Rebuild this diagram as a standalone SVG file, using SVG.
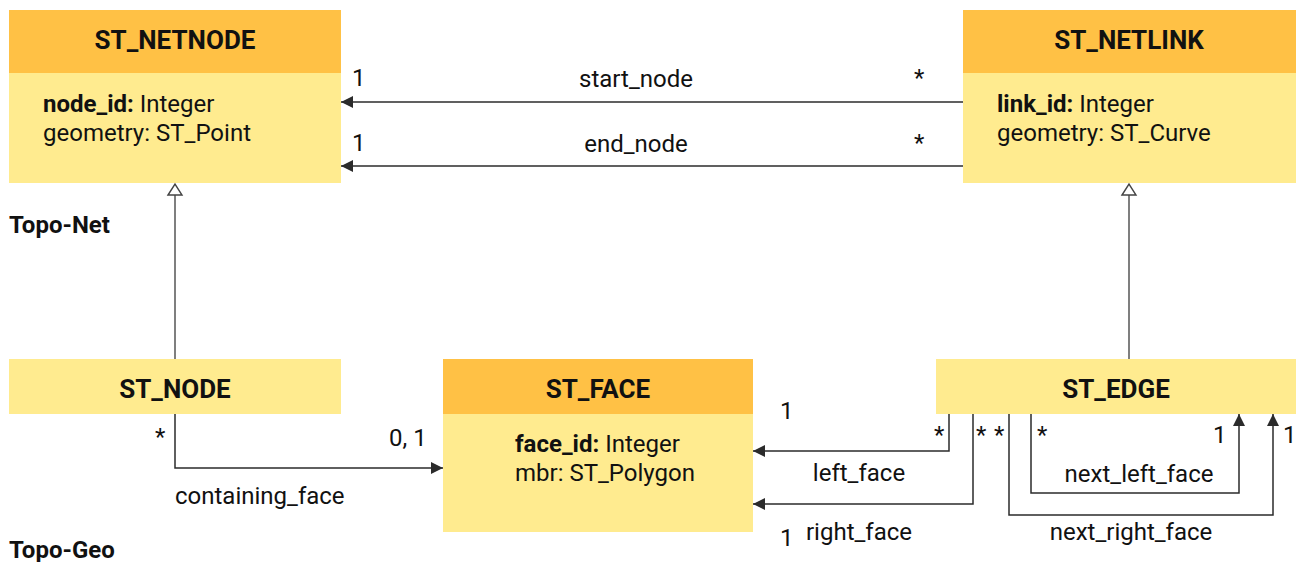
<svg xmlns="http://www.w3.org/2000/svg" width="1296" height="562" viewBox="0 0 1296 562">
<defs>
<style>
text{font-family:Roboto,"Liberation Sans",sans-serif;fill:#111}
.title{font-size:26px;font-weight:bold;text-anchor:middle}
.attr{font-size:24px}
.lbl{font-size:24px}
.mid{text-anchor:middle}
.end{text-anchor:end}
.b{font-weight:bold}
.hdr{fill:#FFC145}
.body{fill:#FFEB8F}
.assoc{fill:none;stroke:#2b2b2b;stroke-width:1.5}
.gen{fill:none;stroke:#555;stroke-width:1.5}
</style>
<marker id="arr" viewBox="0 0 12 12" refX="12" refY="6" markerWidth="12" markerHeight="12" markerUnits="userSpaceOnUse" orient="auto">
<path d="M0,0 L12,6 L0,12 z" fill="#2b2b2b"/>
</marker>
<marker id="tri" viewBox="0 0 13 16" refX="12" refY="8" markerWidth="13" markerHeight="16" markerUnits="userSpaceOnUse" orient="auto" overflow="visible">
<path d="M1,1 L12,8 L1,15 z" fill="#fff" stroke="#444" stroke-width="1.4"/>
</marker>
</defs>
<rect width="1296" height="562" fill="#fff"/>

<g id="netnode">
<rect class="body" x="9" y="10" width="332" height="173"/>
<rect class="hdr" x="9" y="10" width="332" height="63"/>
<text class="title" x="175" y="49">ST_NETNODE</text>
<text class="attr" x="43" y="112"><tspan class="b">node_id:</tspan> Integer</text>
<text class="attr" x="43" y="141">geometry: ST_Point</text>
</g>

<g id="netlink">
<rect class="body" x="963" y="10" width="333" height="173"/>
<rect class="hdr" x="963" y="10" width="333" height="63"/>
<text class="title" x="1129" y="49">ST_NETLINK</text>
<text class="attr" x="997" y="112"><tspan class="b">link_id:</tspan> Integer</text>
<text class="attr" x="997" y="141">geometry: ST_Curve</text>
</g>

<g id="node">
<rect class="body" x="9" y="359" width="332" height="55"/>
<text class="title" x="175" y="398">ST_NODE</text>
</g>

<g id="face">
<rect class="body" x="443" y="359" width="310" height="173"/>
<rect class="hdr" x="443" y="359" width="310" height="55"/>
<text class="title" x="598" y="398">ST_FACE</text>
<text class="attr" x="515" y="452"><tspan class="b">face_id:</tspan> Integer</text>
<text class="attr" x="515" y="481">mbr: ST_Polygon</text>
</g>

<g id="edge">
<rect class="body" x="936" y="359" width="360" height="55"/>
<text class="title" x="1116" y="398">ST_EDGE</text>
</g>

<g id="connectors">
<path class="assoc" d="M963,102 H341" marker-end="url(#arr)"/>
<path class="assoc" d="M963,166 H341" marker-end="url(#arr)"/>
<path class="gen" d="M175,359 V184" marker-end="url(#tri)"/>
<path class="gen" d="M1129,359 V184" marker-end="url(#tri)"/>
<path class="assoc" d="M175,414 V468 H443" marker-end="url(#arr)"/>
<path class="assoc" d="M949,414 V451 H753" marker-end="url(#arr)"/>
<path class="assoc" d="M973,414 V504 H753" marker-end="url(#arr)"/>
<path class="assoc" d="M1031,414 V493 H1239 V414" marker-end="url(#arr)"/>
<path class="assoc" d="M1009,414 V515 H1273 V414" marker-end="url(#arr)"/>
</g>

<g id="labels">
<text class="lbl" x="352" y="86">1</text>
<text class="lbl" x="352" y="151">1</text>
<text class="lbl mid" x="636" y="87">start_node</text>
<text class="lbl mid" x="636" y="152">end_node</text>
<text class="lbl" x="914" y="86">*</text>
<text class="lbl" x="914" y="151">*</text>
<text class="lbl" x="155" y="445">*</text>
<text class="lbl" x="389" y="446">0, 1</text>
<text class="lbl" x="175" y="504">containing_face</text>
<text class="lbl" x="780" y="419">1</text>
<text class="lbl" x="780" y="546">1</text>
<text class="lbl mid" x="859" y="481">left_face</text>
<text class="lbl mid" x="859" y="540">right_face</text>
<text class="lbl" x="934" y="443">*</text>
<text class="lbl" x="976" y="443">*</text>
<text class="lbl" x="994" y="443">*</text>
<text class="lbl" x="1037" y="443">*</text>
<text class="lbl" x="1213" y="443">1</text>
<text class="lbl" x="1283" y="443">1</text>
<text class="lbl mid" x="1139" y="482">next_left_face</text>
<text class="lbl mid" x="1131" y="540">next_right_face</text>
<text class="lbl b" x="9" y="233">Topo-Net</text>
<text class="lbl b" x="9" y="558">Topo-Geo</text>
</g>
</svg>
